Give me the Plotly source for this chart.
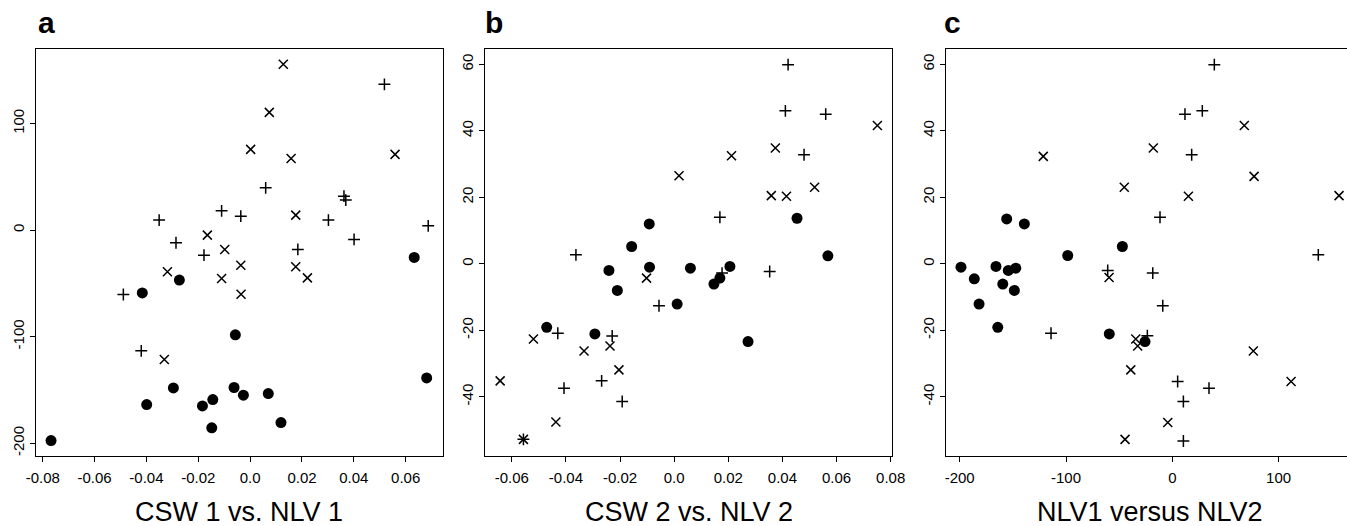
import plotly.graph_objects as go

# ---------------- data ----------------
# Panel a: CSW 1 (x) vs NLV 1 (y)
a_dot_x = [0.0633, -0.0273, -0.0416, -0.0057, 0.0681, -0.0296, -0.0062, -0.0026, 0.007, -0.0144, -0.0184, -0.0399, -0.0148, 0.0119, -0.0768]
a_dot_y = [-25.6, -46.9, -58.9, -98.3, -138.7, -148.1, -147.7, -154.9, -153.4, -159.0, -165.0, -163.7, -185.6, -180.6, -197.5]
a_plus_x = [0.0518, 0.006, 0.0362, 0.0369, -0.011, -0.0036, -0.0351, 0.0302, 0.0687, -0.0286, 0.0401, 0.0184, -0.0178, -0.0489, -0.042]
a_plus_y = [136.8, 39.7, 31.9, 28.2, 18.1, 13.1, 9.4, 9.4, 4.0, -11.9, -8.7, -18.1, -23.5, -60.4, -113.3]
a_x_x = [0.0128, 0.0074, 0.0002, 0.0158, 0.0559, 0.0176, -0.0165, -0.0098, -0.0036, -0.0319, -0.011, 0.0176, 0.0221, -0.0035, -0.0331]
a_x_y = [155.6, 110.5, 75.8, 67.3, 71.1, 14.1, -4.7, -18.1, -32.9, -39.1, -45.4, -34.4, -44.8, -60.1, -121.4]

# Panel b: CSW 2 (x) vs NLV 2 (y)
b_dot_x = [0.0454, -0.0092, -0.0157, 0.0568, -0.0241, -0.0091, 0.006, 0.0206, 0.0169, 0.0147, -0.021, 0.0011, -0.0471, -0.0293, 0.0273]
b_dot_y = [13.7, 12.0, 5.2, 2.4, -2.0, -1.0, -1.3, -0.8, -4.3, -6.1, -8.0, -12.1, -19.1, -21.1, -23.4]
b_plus_x = [0.0421, 0.0411, 0.056, 0.048, 0.0169, -0.0363, 0.0353, 0.0177, -0.0056, -0.043, -0.0229, -0.0268, -0.0407, -0.0192, -0.0557]
b_plus_y = [59.9, 46.0, 45.0, 32.8, 14.0, 2.7, -2.3, -2.8, -12.6, -20.9, -21.7, -35.2, -37.4, -41.4, -52.8]
b_x_x = [0.0751, 0.0374, 0.0212, 0.0018, 0.0519, 0.0359, 0.0415, -0.0102, -0.052, -0.0237, -0.0333, -0.0204, -0.0643, -0.0437, -0.0557]
b_x_y = [41.6, 34.8, 32.5, 26.5, 23.0, 20.5, 20.3, -4.3, -22.6, -24.7, -26.2, -31.9, -35.2, -47.6, -52.8]

# Panel c: NLV1 (x) versus NLV2 (y)
c_dot_x = [-155.8, -139.2, -47.0, -98.4, -198.8, -165.9, -147.3, -154.3, -186.3, -159.5, -148.6, -181.8, -164.2, -59.3, -25.7]
c_dot_y = [13.5, 12.0, 5.2, 2.5, -1.0, -0.8, -1.3, -2.0, -4.5, -6.1, -8.0, -12.1, -19.1, -21.1, -23.4]
c_plus_x = [39.5, 11.9, 28.2, 18.2, -11.6, 137.3, -60.8, -18.4, -9.0, -114.1, -23.5, 5.0, 34.5, 10.4, 10.4]
c_plus_y = [59.9, 45.0, 46.0, 32.8, 14.0, 2.7, -2.0, -2.8, -12.6, -20.9, -21.6, -35.4, -37.4, -41.4, -53.3]
c_x_x = [67.7, -17.9, -121.4, 76.9, -45.2, 15.1, 156.8, -59.5, -34.4, -32.6, -39.1, 76.2, 111.7, -4.3, -44.5]
c_x_y = [41.6, 34.8, 32.3, 26.3, 23.0, 20.3, 20.5, -4.1, -22.6, -24.7, -31.9, -26.2, -35.4, -47.7, -52.8]

panel_letters = ["a", "b", "c"]
panel_titles = ["CSW 1 vs. NLV 1", "CSW 2 vs. NLV 2", "NLV1 versus NLV2"]

ax_a_x_ticks = [-0.08, -0.06, -0.04, -0.02, 0.0, 0.02, 0.04, 0.06]
ax_a_x_labels = ["-0.08", "-0.06", "-0.04", "-0.02", "0.0", "0.02", "0.04", "0.06"]
ax_a_y_ticks = [-200, -100, 0, 100]
ax_a_y_labels = ["-200", "-100", "0", "100"]
ax_b_x_ticks = [-0.06, -0.04, -0.02, 0.0, 0.02, 0.04, 0.06, 0.08]
ax_b_x_labels = ["-0.06", "-0.04", "-0.02", "0.0", "0.02", "0.04", "0.06", "0.08"]
ax_b_y_ticks = [-40, -20, 0, 20, 40, 60]
ax_b_y_labels = ["-40", "-20", "0", "20", "40", "60"]
ax_c_x_ticks = [-200, -100, 0, 100]
ax_c_x_labels = ["-200", "-100", "0", "100"]
ax_c_y_ticks = [-40, -20, 0, 20, 40, 60]
ax_c_y_labels = ["-40", "-20", "0", "20", "40", "60"]

# ---------------- figure ----------------
W, H = 1347, 526
FONT = "Liberation Sans, Arial, Helvetica, sans-serif"

fig = go.Figure()

dot_m = dict(symbol="circle", size=11, color="black", line=dict(width=0))
plus_m = dict(symbol="cross-thin-open", size=8.5, color="black", line=dict(width=1.5, color="black"))
x_m = dict(symbol="x-thin-open", size=9, color="black", line=dict(width=1.5, color="black"))

panels = [
    ("x", "y", a_dot_x, a_dot_y, a_plus_x, a_plus_y, a_x_x, a_x_y),
    ("x2", "y2", b_dot_x, b_dot_y, b_plus_x, b_plus_y, b_x_x, b_x_y),
    ("x3", "y3", c_dot_x, c_dot_y, c_plus_x, c_plus_y, c_x_x, c_x_y),
]
for xa, ya, dx, dy, px, py, xx, xy in panels:
    fig.add_trace(go.Scatter(x=dx, y=dy, mode="markers", marker=dot_m, xaxis=xa, yaxis=ya, showlegend=False))
    fig.add_trace(go.Scatter(x=px, y=py, mode="markers", marker=plus_m, xaxis=xa, yaxis=ya, showlegend=False))
    fig.add_trace(go.Scatter(x=xx, y=xy, mode="markers", marker=x_m, xaxis=xa, yaxis=ya, showlegend=False))

ydom = [1 - 456 / H, 1 - 49 / H]
common = dict(showgrid=False, zeroline=False, showline=True, linecolor="black", linewidth=1.3,
              ticks="outside", ticklen=5, tickwidth=1, tickcolor="black",
              tickfont=dict(family=FONT, size=15, color="black"), automargin=False)

fig.update_layout(
    width=W, height=H,
    margin=dict(l=0, r=0, t=0, b=0),
    paper_bgcolor="white", plot_bgcolor="white",
    xaxis=dict(domain=[36 / W, 443 / W], range=[-0.0826, 0.0744], anchor="y", mirror=True,
               tickvals=ax_a_x_ticks, ticktext=ax_a_x_labels, ticklabelstandoff=3, **common),
    yaxis=dict(domain=ydom, range=[-212, 170], anchor="x", mirror=True,
               tickvals=ax_a_y_ticks, ticktext=ax_a_y_labels, tickangle=-90, **common),
    xaxis2=dict(domain=[485 / W, 892 / W], range=[-0.0699, 0.0805], anchor="y2", mirror=True,
                tickvals=ax_b_x_ticks, ticktext=ax_b_x_labels, ticklabelstandoff=3, **common),
    yaxis2=dict(domain=ydom, range=[-57.8, 64.6], anchor="x2", mirror=True,
                tickvals=ax_b_y_ticks, ticktext=ax_b_y_labels, tickangle=-90, **common),
    xaxis3=dict(domain=[946 / W, 1.0], range=[-212.9, 164.3], anchor="y3", mirror=True,
                tickvals=ax_c_x_ticks, ticktext=ax_c_x_labels, ticklabelstandoff=3, **common),
    yaxis3=dict(domain=ydom, range=[-57.8, 64.6], anchor="x3", mirror=False,
                tickvals=ax_c_y_ticks, ticktext=ax_c_y_labels, tickangle=-90, **common),
)

letter_x = [36, 483, 942]
title_x = [239.5, 688.5, 1149.5]
for i in range(3):
    fig.add_annotation(text="<b>" + panel_letters[i] + "</b>", x=letter_x[i] / W, y=1 - 23 / H,
                       xref="paper", yref="paper", xanchor="left", yanchor="middle", showarrow=False,
                       font=dict(family=FONT, size=30, color="black"))
    fig.add_annotation(text=panel_titles[i], x=title_x[i] / W, y=1 - 512 / H,
                       xref="paper", yref="paper", xanchor="center", yanchor="middle", showarrow=False,
                       font=dict(family=FONT, size=27, color="black"))

# remove the default page margin so the figure starts at the window's corner
fig.write_html("out.html", config={"displayModeBar": False},
               post_script="document.body.style.margin='0';document.body.style.overflow='hidden';")
